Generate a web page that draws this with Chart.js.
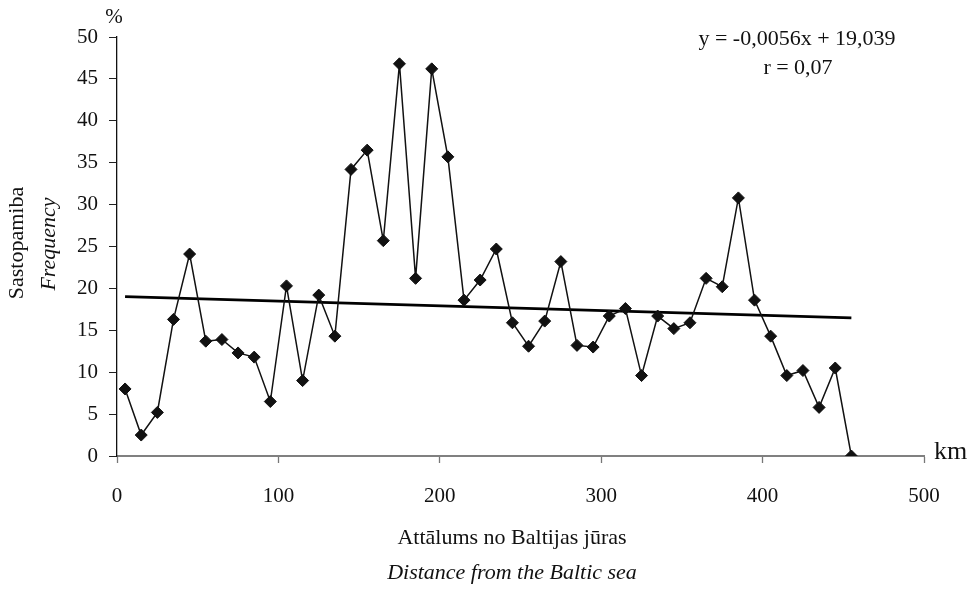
<!DOCTYPE html>
<html>
<head>
<meta charset="utf-8">
<script src="https://cdn.jsdelivr.net/npm/chart.js@4/dist/chart.umd.min.js"></script>
<style>
  html, body { margin: 0; padding: 0; background: #fff; }
  #wrap { width: 979px; height: 589px; }
</style>
</head>
<body>
<div id="wrap"><canvas id="freqChart" width="979" height="589"></canvas></div>
<script>
// distance from the Baltic sea, km (class midpoints)
const distances = [5, 15, 25, 35, 45, 55, 65, 75, 85, 95,
    105, 115, 125, 135, 145, 155, 165, 175, 185, 195,
    205, 215, 225, 235, 245, 255, 265, 275, 285, 295,
    305, 315, 325, 335, 345, 355, 365, 375, 385, 395,
    405, 415, 425, 435, 445, 455];

// frequency, %
const frequency = [8.0, 2.5, 5.2, 16.3, 24.1, 13.7, 13.9, 12.3, 11.8, 6.5,
    20.3, 9.0, 19.2, 14.3, 34.2, 36.5, 25.7, 46.8, 21.2, 46.2,
    35.7, 18.6, 21.0, 24.7, 15.9, 13.1, 16.1, 23.2, 13.2, 13.0,
    16.7, 17.6, 9.6, 16.7, 15.2, 15.9, 21.2, 20.2, 30.8, 18.6,
    14.3, 9.6, 10.2, 5.8, 10.5, 0.0];

// linear trend as printed on the chart
const trendSlope = -0.0056;
const trendIntercept = 19.039;
const trendX = [5, 455];

const xTicks = [0, 100, 200, 300, 400, 500];
const yTicks = [0, 5, 10, 15, 20, 25, 30, 35, 40, 45, 50];

const serif = "'Liberation Serif', 'DejaVu Serif', serif";

const textPlugin = {
    id: 'labels',
    afterDraw(chart) {
        const ctx = chart.ctx;
        ctx.save();
        ctx.fillStyle = '#111';
        ctx.textBaseline = 'middle';
        ctx.textAlign = 'center';

        ctx.font = '21px ' + serif;
        ctx.fillText('%', 114, 17);

        ctx.font = '22px ' + serif;
        ctx.fillText('y = -0,0056x + 19,039', 797, 39);
        ctx.fillText('r = 0,07', 798, 68);

        ctx.fillText('Attālums no Baltijas jūras', 512, 538);
        ctx.font = 'italic 22px ' + serif;
        ctx.fillText('Distance from the Baltic sea', 512, 573);

        ctx.font = '26px ' + serif;
        ctx.textAlign = 'left';
        ctx.fillText('km', 934, 452);

        ctx.textAlign = 'center';
        ctx.save();
        ctx.translate(17, 243);
        ctx.rotate(-Math.PI / 2);
        ctx.font = '22px ' + serif;
        ctx.fillText('Sastopamiba', 0, 0);
        ctx.restore();

        ctx.save();
        ctx.translate(49, 244);
        ctx.rotate(-Math.PI / 2);
        ctx.font = 'italic 22px ' + serif;
        ctx.fillText('Frequency', 0, 0);
        ctx.restore();

        ctx.restore();
    }
};

function createFrequencyChart() {
    const ctx = document.getElementById('freqChart').getContext('2d');

    new Chart(ctx, {
        type: 'scatter',
        data: {
            datasets: [{
                label: 'Frequency',
                data: distances.map((d, i) => ({ x: d, y: frequency[i] })),
                showLine: true,
                borderColor: '#111',
                borderWidth: 1.5,
                pointStyle: 'rectRot',
                pointRadius: 6,
                pointBackgroundColor: '#111',
                pointBorderColor: '#111',
                pointBorderWidth: 1,
                order: 1
            },
            {
                label: 'Trend',
                data: trendX.map(x => ({ x: x, y: trendSlope * x + trendIntercept })),
                showLine: true,
                borderColor: '#000',
                borderWidth: 2.8,
                pointRadius: 0,
                order: 2
            }]
        },
        options: {
            responsive: false,
            animation: false,
            layout: {
                padding: { left: 0, right: 55, top: 37, bottom: 0 }
            },
            plugins: {
                legend: { display: false },
                tooltip: { enabled: false }
            },
            scales: {
                x: {
                    type: 'linear',
                    min: 0,
                    max: 500,
                    afterFit: s => { s.height = 133; },
                    afterBuildTicks: s => { s.ticks = xTicks.map(v => ({ value: v })); },
                    grid: {
                        drawOnChartArea: false,
                        drawTicks: true,
                        tickLength: 7,
                        tickWidth: 1.3,
                        color: '#777'
                    },
                    border: { color: '#808080', width: 2 },
                    ticks: {
                        color: '#111',
                        padding: 21,
                        maxRotation: 0,
                        font: { family: serif, size: 21 }
                    }
                },
                y: {
                    min: 0,
                    max: 50,
                    afterFit: s => { s.width = 117; },
                    afterBuildTicks: s => { s.ticks = yTicks.map(v => ({ value: v })); },
                    grid: {
                        drawOnChartArea: false,
                        drawTicks: true,
                        tickLength: 8,
                        color: '#222'
                    },
                    border: { color: '#111', width: 1.3 },
                    ticks: {
                        color: '#111',
                        padding: 11,
                        font: { family: serif, size: 21 }
                    }
                }
            }
        },
        plugins: [textPlugin]
    });
}

document.addEventListener('DOMContentLoaded', () => {
    createFrequencyChart();
});
</script>
</body>
</html>
